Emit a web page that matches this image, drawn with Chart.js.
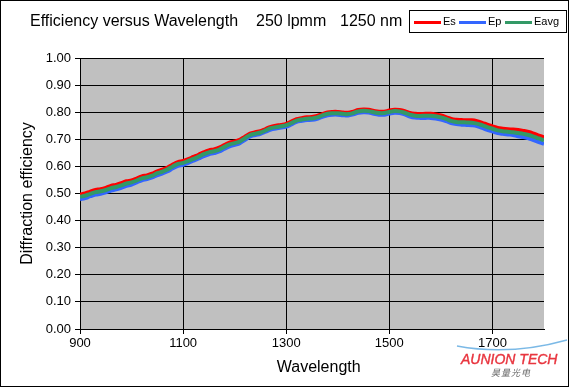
<!DOCTYPE html>
<html>
<head>
<meta charset="utf-8">
<script src="https://cdn.jsdelivr.net/npm/chart.js@4.4.1/dist/chart.umd.min.js"></script>
<style>
  html, body { margin: 0; padding: 0; background: #fff; }
  #wrap { position: relative; width: 569px; height: 387px; overflow: hidden; font-family: "Liberation Sans", Arial, sans-serif; }
  #c { position: absolute; left: 0; top: 0; }
  .t { position: absolute; font-size: 16px; color: #000; white-space: nowrap; line-height: 1; }
  #legend { position: absolute; left: 409px; top: 10px; width: 158px; height: 23px; box-sizing: border-box; border: 1px solid #000; background: #fff; }
  .li { position: absolute; top: 10px; height: 3px; width: 27px; }
  .lt { position: absolute; top: 5px; font-size: 11px; line-height: 1; color: #000; }
  #logo1 { position: absolute; left: 461px; top: 352px; font-size: 14px; font-style: italic; font-weight: normal; color: #e8353f; -webkit-text-stroke: 0.4px #e8353f; line-height: 1; white-space: nowrap; }
  #logo2 { position: absolute; left: 491px; top: 368px; font-size: 9px; font-style: italic; color: #666; letter-spacing: 1px; line-height: 1; font-family: "Noto Sans CJK SC", sans-serif; }
  #swoosh { position: absolute; left: 455px; top: 336px; }
</style>
</head>
<body>
<div id="wrap">
  <canvas id="c" width="569" height="387"></canvas>
  <div class="t" style="left:30px; top:13px;">Efficiency versus Wavelength</div>
  <div class="t" style="left:256px; top:13px;">250 lpmm</div>
  <div class="t" style="left:340px; top:13px;">1250 nm</div>
  <div id="legend">
    <div class="li" style="left:4px; background:#ff0000;"></div><div class="lt" style="left:33px;">Es</div>
    <div class="li" style="left:49px; background:#3366ff;"></div><div class="lt" style="left:78px;">Ep</div>
    <div class="li" style="left:95px; background:#339966;"></div><div class="lt" style="left:124px;">Eavg</div>
  </div>
  <svg id="swoosh" width="114" height="18" viewBox="0 0 114 18">
    <path d="M2 10 Q55 20 112 4" stroke="#5aa8e0" stroke-width="1.5" fill="none" opacity="0.8"/>
  </svg>
  <div id="logo1">AUNION TECH</div>
  <div id="logo2">昊量光电</div>
</div>
<script>
const wavelengths = [900,910,920,930,940,950,960,970,980,990,1000,1010,1020,1030,1040,1050,1060,1070,1080,1090,1100,1110,1120,1130,1140,1150,1160,1170,1180,1190,1200,1210,1220,1230,1240,1250,1260,1270,1280,1290,1300,1310,1320,1330,1340,1350,1360,1370,1380,1390,1400,1410,1420,1430,1440,1450,1460,1470,1480,1490,1500,1510,1520,1530,1540,1550,1560,1570,1580,1590,1600,1610,1620,1630,1640,1650,1660,1670,1680,1690,1700,1710,1720,1730,1740,1750,1760,1770,1780,1790,1800];
const esValues = [.496,.500,.507,.513,.516,.521,.528,.532,.538,.545,.548,.555,.563,.567,.573,.582,.588,.596,.607,.616,.620,.627,.635,.643,.652,.659,.663,.669,.679,.688,.692,.698,.710,.721,.726,.730,.738,.746,.750,.753,.757,.765,.774,.778,.781,.782,.786,.793,.799,.801,.801,.799,.798,.802,.808,.810,.809,.805,.802,.802,.806,.809,.808,.804,.797,.794,.793,.794,.794,.792,.788,.782,.775,.772,.771,.770,.770,.767,.761,.754,.748,.742,.739,.737,.736,.734,.731,.727,.721,.714,.707];
const epValues = [.479,.483,.490,.496,.499,.504,.511,.515,.521,.528,.533,.541,.549,.553,.559,.568,.574,.582,.593,.602,.606,.613,.621,.629,.638,.645,.649,.655,.665,.674,.680,.686,.698,.711,.716,.720,.728,.736,.740,.743,.747,.755,.764,.768,.771,.772,.776,.783,.789,.791,.791,.789,.788,.792,.798,.800,.799,.794,.791,.791,.795,.798,.797,.792,.784,.780,.779,.779,.779,.777,.773,.767,.760,.756,.754,.753,.752,.749,.742,.735,.729,.723,.720,.718,.716,.711,.708,.704,.697,.690,.683];
const eavgValues = [.488,.492,.499,.505,.508,.513,.520,.524,.530,.537,.541,.548,.556,.560,.566,.575,.581,.589,.600,.609,.613,.620,.628,.636,.645,.652,.656,.662,.672,.681,.686,.692,.704,.716,.721,.725,.733,.741,.745,.748,.752,.760,.769,.773,.776,.777,.781,.788,.794,.796,.796,.794,.793,.797,.803,.805,.804,.800,.797,.797,.801,.804,.803,.798,.791,.787,.786,.787,.787,.785,.781,.775,.768,.764,.763,.762,.761,.758,.752,.745,.739,.733,.730,.728,.726,.723,.720,.716,.710,.703,.696];
const xTickValues = [900,1100,1300,1500,1700];
const yTickValues = [0,0.1,0.2,0.3,0.4,0.5,0.6,0.7,0.8,0.9,1.0];

const pts = arr => arr.map((v, i) => ({x: wavelengths[i], y: v}));
const FONT = "'Liberation Sans', Arial, sans-serif";

const bgPlugin = {
  id: 'bg',
  beforeDraw(chart) {
    const {ctx, chartArea: a} = chart;
    ctx.save();
    ctx.fillStyle = '#ffffff';
    ctx.fillRect(0, 0, chart.width, chart.height);
    ctx.fillStyle = '#c0c0c0';
    ctx.fillRect(a.left, a.top, a.right - a.left, a.bottom - a.top);
    ctx.restore();
  },
  afterDraw(chart) {
    const ctx = chart.ctx;
    ctx.save();
    ctx.strokeStyle = '#000';
    ctx.lineWidth = 1;
    ctx.strokeRect(0.5, 0.5, chart.width - 1, chart.height - 1);
    ctx.restore();
  }
};

const common = { pointRadius: 0, borderWidth: 4, tension: 0.4, fill: false };

new Chart(document.getElementById('c'), {
  type: 'line',
  data: {
    datasets: [
      Object.assign({ label: 'Eavg', data: pts(eavgValues), borderColor: '#339966', order: 1 }, common),
      Object.assign({ label: 'Es', data: pts(esValues), borderColor: '#ff0000', order: 2 }, common),
      Object.assign({ label: 'Ep', data: pts(epValues), borderColor: '#3366ff', order: 3 }, common)
    ]
  },
  options: {
    responsive: false,
    animation: false,
    devicePixelRatio: 1,
    layout: { padding: { top: 58, right: 25, bottom: 0, left: 0 } },
    plugins: { legend: { display: false }, tooltip: { enabled: false }, title: { display: false } },
    scales: {
      x: {
        type: 'linear', min: 900, max: 1800,
        afterBuildTicks: s => { s.ticks = xTickValues.map(v => ({ value: v })); },
        afterFit: s => { s.height = 58; },
        grid: { color: '#000', lineWidth: 1, tickLength: 5, drawOnChartArea: true },
        border: { color: '#000', width: 1 },
        ticks: { color: '#000', font: { family: FONT, size: 13 }, padding: 2, maxRotation: 0, autoSkip: false, callback: v => String(v) },
        title: { display: true, text: '   Wavelength', color: '#000', font: { family: FONT, size: 16 }, padding: { top: 0, bottom: 10 } }
      },
      y: {
        type: 'linear', min: 0, max: 1,
        afterBuildTicks: s => { s.ticks = yTickValues.map(v => ({ value: v })); },
        afterFit: s => { s.width = 80; },
        grid: { color: '#000', lineWidth: 1, tickLength: 5 },
        border: { color: '#000', width: 1 },
        ticks: { color: '#000', font: { family: FONT, size: 13 }, padding: 4, callback: v => Number(v).toFixed(2), autoSkip: false },
        title: { display: true, text: 'Diffraction efficiency', color: '#000', font: { family: FONT, size: 16 }, padding: { top: 18, bottom: 0 } }
      }
    }
  },
  plugins: [bgPlugin]
});
</script>
</body>
</html>
